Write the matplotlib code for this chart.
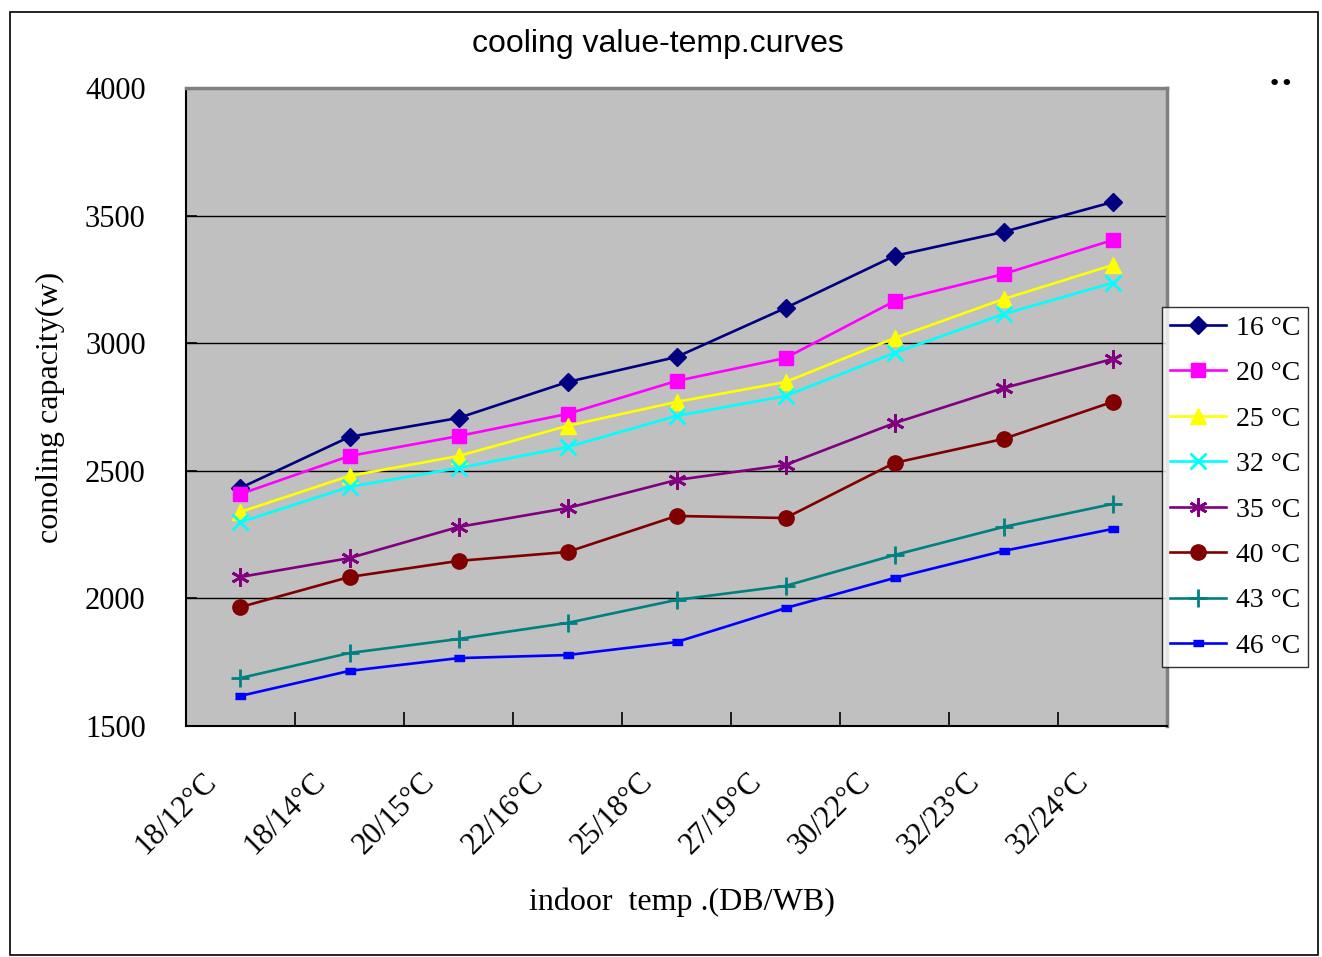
import matplotlib
matplotlib.use("Agg")
import matplotlib.pyplot as plt
from matplotlib.patches import Rectangle

categories = ["18/12°C", "18/14°C", "20/15°C", "22/16°C", "25/18°C",
              "27/19°C", "30/22°C", "32/23°C", "32/24°C"]
s16 = [2433, 2633, 2707, 2848, 2946, 3138, 3342, 3436, 3553]
s20 = [2409, 2558, 2636, 2723, 2852, 2942, 3165, 3271, 3404]
s25 = [2339, 2480, 2558, 2676, 2770, 2848, 3020, 3173, 3306]
s32 = [2299, 2437, 2511, 2593, 2715, 2793, 2962, 3114, 3236]
s35 = [2084, 2158, 2280, 2354, 2464, 2523, 2687, 2824, 2938]
s40 = [1966, 2084, 2147, 2182, 2323, 2315, 2531, 2625, 2770]
s43 = [1688, 1786, 1841, 1904, 1994, 2049, 2170, 2280, 2370]
s46 = [1618, 1716, 1766, 1778, 1829, 1962, 2080, 2186, 2272]
series_labels = ["16 °C", "20 °C", "25 °C", "32 °C", "35 °C", "40 °C", "43 °C", "46 °C"]
yticks = [1500, 2000, 2500, 3000, 3500, 4000]

SERIF = ["Liberation Serif", "DejaVu Serif"]

fig = plt.figure(figsize=(13.22, 9.57), dpi=100)
fig.patch.set_facecolor("white")
# outer frame
fig.add_artist(Rectangle((10/1322, 0.002), (1318-10)/1322, (957-12)/957 - 0.002,
                         transform=fig.transFigure, fill=False, edgecolor="black", lw=1.2))

ax = fig.add_axes([186/1322, 1-726/957, (1167-186)/1322, (726-88)/957])
ax.set_facecolor("#C0C0C0")

x = list(range(len(categories)))
styles = [
    dict(color="#000080", marker="D", ms=9),
    dict(color="#FF00FF", marker="s", ms=10),
    dict(color="#FFFF00", marker="^", ms=11),
    dict(color="#00FFFF", marker="x", ms=11, mew=2),
    dict(color="#800080", marker=(6, 2, 0), ms=13, mew=2),
    dict(color="#800000", marker="o", ms=11),
    dict(color="#008080", marker="+", ms=13, mew=2),
    dict(color="#0000FF", marker=[(-1, -0.55), (1, -0.55), (1, 0.55), (-1, 0.55)], ms=7),
]
all_series = [s16, s20, s25, s32, s35, s40, s43, s46]
lines = []
for vals, st, lab in zip(all_series, styles, series_labels):
    ln, = ax.plot(x, vals, lw=1.9, label=lab, zorder=3, **st)
    lines.append(ln)

ax.set_xlim(-0.5, len(categories) - 0.5)
ax.set_ylim(1500, 4000)
ax.set_yticks(yticks)
ax.set_yticklabels([str(v) for v in yticks], fontfamily=SERIF, fontsize=22)
ax.yaxis.grid(True, color="black", lw=1)
ax.set_axisbelow(True)
ax.tick_params(axis="y", direction="in", length=8, width=1.2, pad=29)
ax.tick_params(axis="x", direction="in", length=10, width=1.2)

# category boundary ticks
ax.set_xticks([i + 0.5 for i in range(len(categories) - 1)])
ax.set_xticklabels([])
for i, c in enumerate(categories):
    ax.annotate(c, xy=(i, 0), xycoords=("data", "axes fraction"),
                xytext=(-20, -37), textcoords="offset points",
                rotation=45, ha="right", va="center", rotation_mode="anchor",
                fontfamily=SERIF, fontsize=22)

for side in ["left", "bottom"]:
    ax.spines[side].set_color("black")
    ax.spines[side].set_linewidth(1.5)
for side in ["top", "right"]:
    ax.spines[side].set_color("#808080")
    ax.spines[side].set_linewidth(2.5)

fig.text(658/1322, 1-44/957, "cooling value-temp.curves", ha="center", va="center",
         fontfamily="Liberation Sans", fontsize=23)
fig.text(50/1322, 1-407/957, "conoling capacity(w)", ha="center", va="center",
         rotation=90, fontfamily=SERIF, fontsize=23)
fig.text(682/1322, 1-902/957, "indoor  temp .(DB/WB)", ha="center", va="center",
         fontfamily=SERIF, fontsize=23)
fig.text(1281/1322, 1-84/957, "••", ha="center", va="center", fontsize=16, color="black")

leg = fig.legend(handles=lines, loc="upper left",
                 bbox_to_anchor=(1162/1322, 1-307/957),
                 prop={"family": SERIF, "size": 20},
                 frameon=True, fancybox=False, edgecolor="black",
                 handlelength=2.0, handletextpad=0.35, labelspacing=0.72,
                 borderpad=0.3, borderaxespad=0)
leg.get_frame().set_linewidth(1.0)

fig.savefig("out.png", dpi=100)
